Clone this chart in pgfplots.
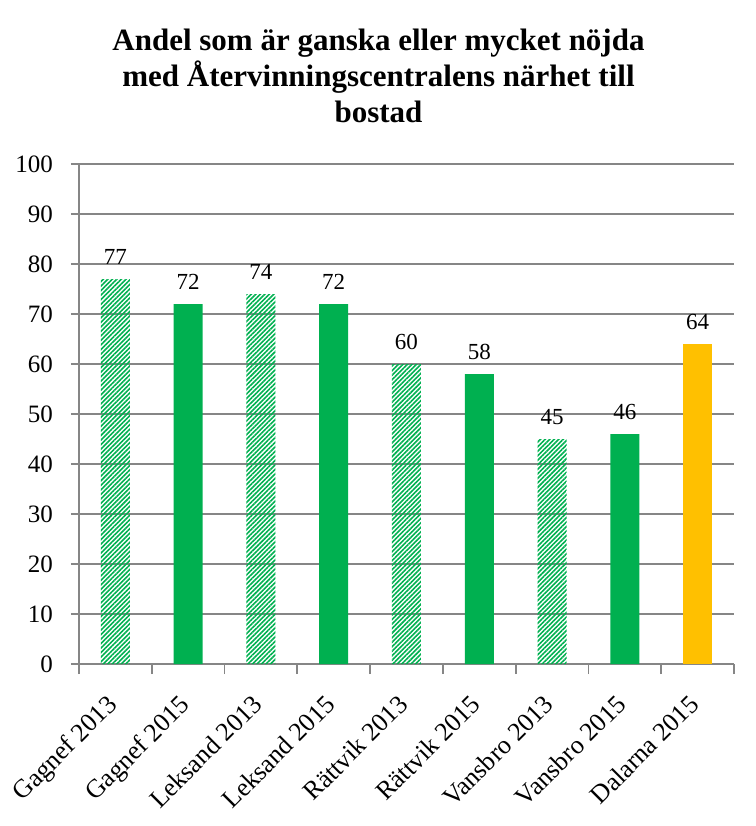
\documentclass[border=0pt]{standalone}
\usepackage{fontspec}
\setmainfont{Liberation Serif}
\usepackage{pgfplots}
\pgfplotsset{compat=1.18}
\usetikzlibrary{patterns.meta}
\definecolor{bargreen}{RGB}{0,176,80}
\definecolor{barorange}{RGB}{255,192,0}
\definecolor{gridgray}{RGB}{134,134,134}
\begin{document}
\begin{tikzpicture}
\useasboundingbox (-39.5pt,-81pt) rectangle (338.5pt,332pt);
\begin{axis}[
  scale only axis,
  width=327.5pt, height=250pt,
  ymin=0, ymax=100, ytick={0,10,...,100},
  xmin=-0.5, xmax=8.5,
  xtick={0,...,8},
  xticklabels={Gagnef 2013,Gagnef 2015,Leksand 2013,Leksand 2015,Rättvik 2013,Rättvik 2015,Vansbro 2013,Vansbro 2015,Dalarna 2015},
  minor xtick={-0.5,0.5,...,8.5},
  major x tick style={draw=none},
  axis x line*=bottom, axis y line*=left,
  axis line style={gridgray, line width=0.9pt, -},
  tick style={gridgray, line width=0.9pt},
  tick align=outside,
  major tick length=4pt, minor tick length=5pt,
  ymajorgrids, grid style={gridgray, line width=0.9pt},
  x tick label style={xshift=-5pt, yshift=-9pt, rotate=45, anchor=north east, font=\fontsize{13}{15}\selectfont, inner sep=1pt},
  y tick label style={font=\fontsize{12.5}{14}\selectfont, xshift=-5.5pt},
  /pgf/number format/assume math mode=true,
  ybar, bar width=14.5pt, bar shift=0pt,
  nodes near coords,
  every node near coord/.append style={font=\fontsize{11.5}{13}\selectfont, yshift=3.5pt},
  title={Andel som är ganska eller mycket nöjda\\med Återvinningscentralens närhet till\\bostad},
  title style={align=center, font=\bfseries\fontsize{15.5}{18}\selectfont, xshift=-14pt, yshift=11pt},
]
\addplot[draw=none, pattern={Lines[angle=45,distance=1.6pt,line width=0.8pt]}, pattern color=bargreen]
  coordinates {(0,77) (2,74) (4,60) (6,45)};
\addplot[draw=none, fill=bargreen]
  coordinates {(1,72) (3,72) (5,58) (7,46)};
\addplot[draw=none, fill=barorange]
  coordinates {(8,64)};
\end{axis}
\end{tikzpicture}
\end{document}
